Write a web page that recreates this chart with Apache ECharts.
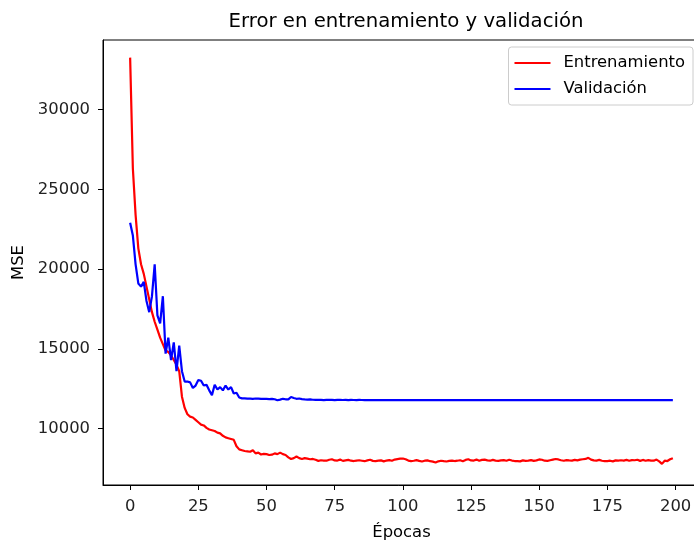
<!DOCTYPE html>
<html>
<head>
<meta charset="utf-8">
<script src="https://cdn.jsdelivr.net/npm/echarts@6/dist/echarts.min.js"></script>
<style>html,body{margin:0;padding:0;background:#fff}#c{width:694px;height:540px}</style>
</head>
<body>
<div id="c"></div>
<script>
const xTicks = [0, 25, 50, 75, 100, 125, 150, 175, 200];
const yTicks = [10000, 15000, 20000, 25000, 30000];
const legendNames = ['Entrenamiento', 'Validación'];

const trainMSE = [
33250, 26300, 23400, 21300, 20300, 19700, 18900, 18100, 17300, 16700,
16200, 15700, 15300, 14900, 14800, 14600, 14300, 14000, 13600, 12000,
11300, 10900, 10750, 10700, 10550, 10400, 10250, 10200, 10050, 9950,
9900, 9850, 9750, 9700, 9550, 9450, 9400, 9350, 9300, 8900,
8700, 8650, 8600, 8580, 8550, 8650, 8450, 8500, 8380, 8420,
8400, 8350, 8370, 8450, 8400, 8500, 8400, 8350, 8200, 8100,
8150, 8250, 8150, 8100, 8150, 8120, 8080, 8100, 8050, 7980,
8020, 8000, 7990, 8050, 8080, 8010, 8000, 8060, 7980, 8010,
8040, 7990, 7970, 8000, 8020, 7990, 7960, 8010, 8050, 7980,
7970, 7990, 8010, 7950, 8000, 8030, 7990, 8060, 8090, 8120,
8130, 8080, 8000, 7960, 7990, 8030, 7980, 7940, 7990, 8010,
7960, 7930, 7880, 7950, 7990, 7960, 7940, 7980, 8000, 7970,
7990, 8020, 7960, 8040, 8080, 8010, 8000, 8060, 7990, 8040,
8060, 8010, 7990, 8040, 8000, 7980, 8010, 8030, 7990, 8050,
8000, 7970, 7960, 7950, 8010, 7980, 8000, 8030, 7980, 8010,
8070, 8050, 7990, 7980, 8020, 8060, 8100, 8070, 8020, 7990,
8030, 8010, 8000, 8040, 8010, 8060, 8080, 8100, 8170, 8060,
8010, 8000, 8040, 7990, 7960, 7970, 7990, 7950, 8010, 8000,
8020, 8000, 8040, 7990, 8030, 8020, 8050, 7980, 8040, 7990,
8030, 8000, 7990, 8060, 7950, 7790, 7990, 7970, 8080, 8150
];

const valMSE = [
22900, 22100, 20300, 19100, 18900, 19200, 18000, 17300, 18300, 20300,
17100, 16600, 18300, 14700, 15700, 14300, 15400, 13600, 15200, 13600,
12950, 12950, 12900, 12550, 12700, 13050, 13000, 12700, 12750, 12400,
12100, 12750, 12450, 12600, 12400, 12700, 12450, 12600, 12200, 12250,
11950, 11900, 11900, 11880, 11880, 11870, 11890, 11880, 11860, 11870,
11860, 11850, 11870, 11840, 11780, 11820, 11870, 11840, 11830, 11980,
11920, 11870, 11890, 11850, 11830, 11820, 11830, 11810, 11800, 11800,
11800, 11790, 11800, 11810, 11800, 11790, 11800, 11800, 11795, 11800,
11790, 11800, 11795, 11790, 11800, 11795, 11790, 11790, 11795, 11790,
11790, 11785, 11790, 11790, 11785, 11790, 11790, 11785, 11790, 11785,
11790, 11785, 11785, 11790, 11785, 11785, 11790, 11785, 11785, 11785,
11790, 11785, 11785, 11785, 11785, 11790, 11785, 11785, 11785, 11785,
11785, 11785, 11790, 11785, 11785, 11785, 11785, 11785, 11785, 11785,
11785, 11785, 11785, 11785, 11785, 11785, 11785, 11785, 11785, 11785,
11785, 11785, 11785, 11785, 11785, 11785, 11785, 11785, 11785, 11785,
11785, 11785, 11785, 11785, 11785, 11785, 11785, 11785, 11785, 11785,
11785, 11785, 11785, 11785, 11785, 11785, 11785, 11785, 11785, 11785,
11785, 11785, 11785, 11785, 11785, 11785, 11785, 11785, 11785, 11785,
11785, 11785, 11785, 11785, 11785, 11785, 11785, 11785, 11785, 11785,
11785, 11785, 11785, 11785, 11785, 11785, 11785, 11785, 11785, 11785
];

const epochs = trainMSE.map((_, i) => i);
const font = 'DejaVu Sans';
const fs = 16.4;

const chart = echarts.init(document.getElementById('c'), null, {renderer: 'canvas'});
chart.setOption({
  animation: false,
  backgroundColor: '#fff',
  textStyle: {fontFamily: font},
  title: {
    text: 'Error en entrenamiento y validación',
    left: 401, top: 7, textAlign: 'center',
    textStyle: {fontFamily: font, fontSize: 19.7, fontWeight: 'normal', color: '#000'}
  },
  legend: {
    orient: 'vertical', right: 1, top: 47,
    data: legendNames.map(n => ({name: n, icon: 'rect'})),
    itemWidth: 36, itemHeight: 2.2, itemGap: 10,
    padding: [8, 8, 8, 6],
    borderColor: '#cccccc', borderWidth: 1, borderRadius: 3,
    backgroundColor: 'rgba(255,255,255,0.8)',
    textStyle: {fontFamily: font, fontSize: fs, color: '#000', padding: [0, 0, 0, 8]}
  },
  grid: {
    left: 103, top: 40, right: -6, bottom: 55,
    outerBoundsMode: 'none', containLabel: false,
    show: true, borderColor: '#000', borderWidth: 1, backgroundColor: 'transparent'
  },
  xAxis: {
    type: 'value', min: -9.95, max: 208.95,
    name: 'Épocas', nameLocation: 'middle', nameGap: 40,
    nameTextStyle: {fontFamily: font, fontSize: fs, color: '#000'},
    axisLine: {show: true, onZero: false, lineStyle: {color: '#000', width: 1}},
    axisTick: {show: true, customValues: xTicks, length: 5, lineStyle: {color: '#000'}},
    axisLabel: {customValues: xTicks, margin: 14, fontFamily: font, fontSize: fs, color: '#222'},
    splitLine: {show: false}
  },
  yAxis: {
    type: 'value', min: 6468, max: 34356,
    name: 'MSE', nameLocation: 'middle', nameGap: 69,
    nameTextStyle: {fontFamily: font, fontSize: fs, color: '#000'},
    axisLine: {show: true, onZero: false, lineStyle: {color: '#000', width: 1}},
    axisTick: {show: true, customValues: yTicks, length: 5, lineStyle: {color: '#000'}},
    axisLabel: {customValues: yTicks, margin: 13, fontFamily: font, fontSize: fs, color: '#222',
      formatter: v => String(v)},
    splitLine: {show: false}
  },
  series: [
    {
      name: legendNames[0], type: 'line', symbol: 'none', showSymbol: false,
      data: epochs.map(i => [i, trainMSE[i]]),
      lineStyle: {color: '#ff0000', width: 2.2}, itemStyle: {color: '#ff0000'}
    },
    {
      name: legendNames[1], type: 'line', symbol: 'none', showSymbol: false,
      data: epochs.map(i => [i, valMSE[i]]),
      lineStyle: {color: '#0000ff', width: 2.2}, itemStyle: {color: '#0000ff'}
    }
  ]
});
</script>
</body>
</html>
